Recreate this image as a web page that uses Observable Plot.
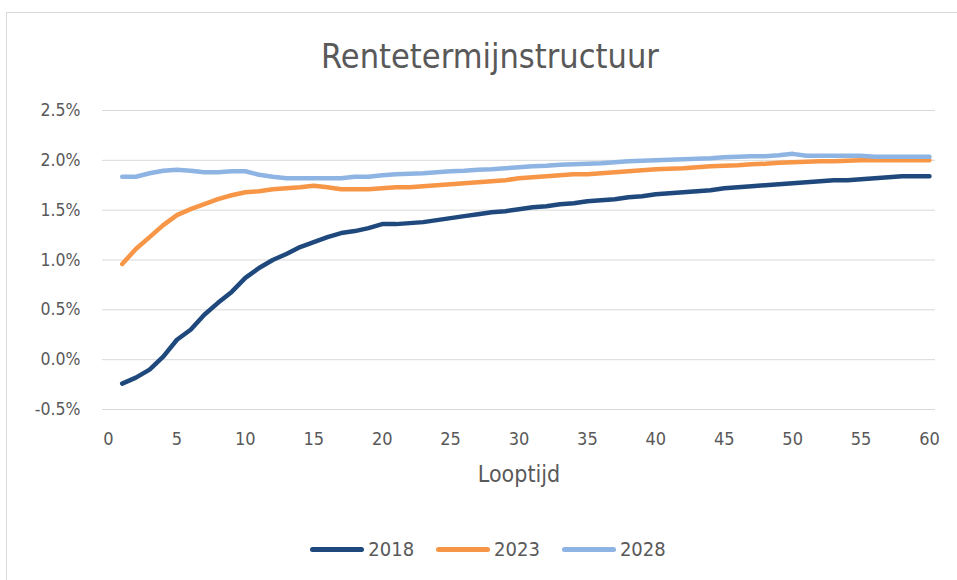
<!DOCTYPE html>
<html>
<head>
<meta charset="utf-8">
<script src="https://cdn.jsdelivr.net/npm/d3@7"></script>
<script src="https://cdn.jsdelivr.net/npm/@observablehq/plot@0.6"></script>
<style>
  html, body { margin: 0; padding: 0; background: #fff; }
  body { width: 957px; height: 580px; overflow: hidden; position: relative;
         font-family: "Liberation Sans Narrow", "DejaVu Sans Condensed", Lato, sans-serif; color: #595959; }
  #frame { position: absolute; left: 6px; top: 12px; width: 1000px; height: 1000px; border: 1.5px solid #d9d9d9; box-sizing: border-box; }
  #title { position: absolute; left: 0; top: 35px; width: 980px; text-align: center; font-size: 34px; line-height: 42px; color: #595959; }
  #chart { position: absolute; left: 0; top: 90px; }
  #legend { position: absolute; left: 0; top: 536px; width: 976px; display: flex; justify-content: center; gap: 22px; font-size: 20px; line-height: 26px; }
  .item { display: flex; align-items: center; gap: 4px; }
  .sw { width: 54px; height: 5px; border-radius: 3px; display: inline-block; }
</style>
</head>
<body>
<div id="frame"></div>
<div id="title">Rentetermijnstructuur</div>
<div id="chart"></div>
<div id="legend"></div>
<script>
const looptijd = d3.range(1, 61);
const series = ["2018", "2023", "2028"];
const colors = ["#1F497D", "#F79646", "#8EB4E3"];
const r2018 = [-0.24,-0.18,-0.10,0.03,0.20,0.30,0.45,0.57,0.68,0.82,
  0.92,1.00,1.06,1.13,1.18,1.23,1.27,1.29,1.32,1.36,
  1.36,1.37,1.38,1.40,1.42,1.44,1.46,1.48,1.49,1.51,
  1.53,1.54,1.56,1.57,1.59,1.60,1.61,1.63,1.64,1.66,
  1.67,1.68,1.69,1.70,1.72,1.73,1.74,1.75,1.76,1.77,
  1.78,1.79,1.80,1.80,1.81,1.82,1.83,1.84,1.84,1.84];
const r2023 = [0.96,1.11,1.23,1.35,1.45,1.51,1.56,1.61,1.65,1.68,
  1.69,1.71,1.72,1.73,1.745,1.73,1.71,1.71,1.71,1.72,
  1.73,1.73,1.74,1.75,1.76,1.77,1.78,1.79,1.80,1.82,
  1.83,1.84,1.85,1.86,1.86,1.87,1.88,1.89,1.90,1.91,
  1.915,1.92,1.93,1.94,1.945,1.95,1.96,1.965,1.975,1.98,
  1.985,1.99,1.99,1.995,2.00,2.00,2.00,2.00,2.00,2.00];
const r2028 = [1.835,1.835,1.87,1.895,1.905,1.895,1.88,1.88,1.89,1.89,
  1.855,1.835,1.82,1.82,1.82,1.82,1.82,1.835,1.835,1.85,
  1.86,1.865,1.87,1.88,1.89,1.895,1.905,1.91,1.92,1.93,
  1.94,1.945,1.955,1.96,1.965,1.97,1.98,1.99,1.995,2.00,
  2.005,2.01,2.015,2.02,2.03,2.035,2.04,2.04,2.05,2.065,
  2.045,2.045,2.045,2.045,2.045,2.035,2.035,2.035,2.035,2.035];
const xTicks = [0,5,10,15,20,25,30,35,40,45,50,55,60];
const yTicks = [-0.5,0,0.5,1.0,1.5,2.0,2.5];
const xLabel = "Looptijd";

const values = [r2018, r2023, r2028];
const data = series.flatMap((s, i) => looptijd.map((t, j) => ({series: s, t, v: values[i][j]})));

const fontFam = '"Liberation Sans Narrow", "DejaVu Sans Condensed", Lato, sans-serif';
const chart = Plot.plot({
  width: 957, height: 410,
  marginLeft: 102, marginRight: 22, marginTop: 20, marginBottom: 91,
  style: {fontFamily: fontFam, fontSize: "18px", color: "#595959", background: "transparent", overflow: "visible"},
  x: {domain: [-0.44, 60.44]},
  y: {domain: [-0.5, 2.5]},
  color: {domain: series, range: colors},
  marks: [
    Plot.gridY(yTicks, {stroke: "#d9d9d9", strokeOpacity: 1, strokeWidth: 1}),
    Plot.axisY(yTicks, {tickSize: 0, tickPadding: 22, tickFormat: d => d.toFixed(1) + "%", label: null, fill: "#595959", fontSize: 17.5}),
    Plot.axisX(xTicks, {tickSize: 0, tickPadding: 23, label: null, fill: "#595959", fontSize: 18}),
    Plot.text([xLabel], {frameAnchor: "bottom", dy: 72, fontSize: 23, fill: "#595959"}),
    Plot.line(data, {x: "t", y: "v", z: "series", stroke: "series", strokeWidth: 4.5, strokeLinecap: "round", strokeLinejoin: "round", curve: "linear"})
  ]
});
document.getElementById("chart").appendChild(chart);

const legend = document.getElementById("legend");
series.forEach((s, i) => {
  const it = document.createElement("div");
  it.className = "item";
  const sw = document.createElement("span");
  sw.className = "sw";
  sw.style.background = colors[i];
  const lab = document.createElement("span");
  lab.textContent = s;
  it.appendChild(sw); it.appendChild(lab);
  legend.appendChild(it);
});
</script>
</body>
</html>
